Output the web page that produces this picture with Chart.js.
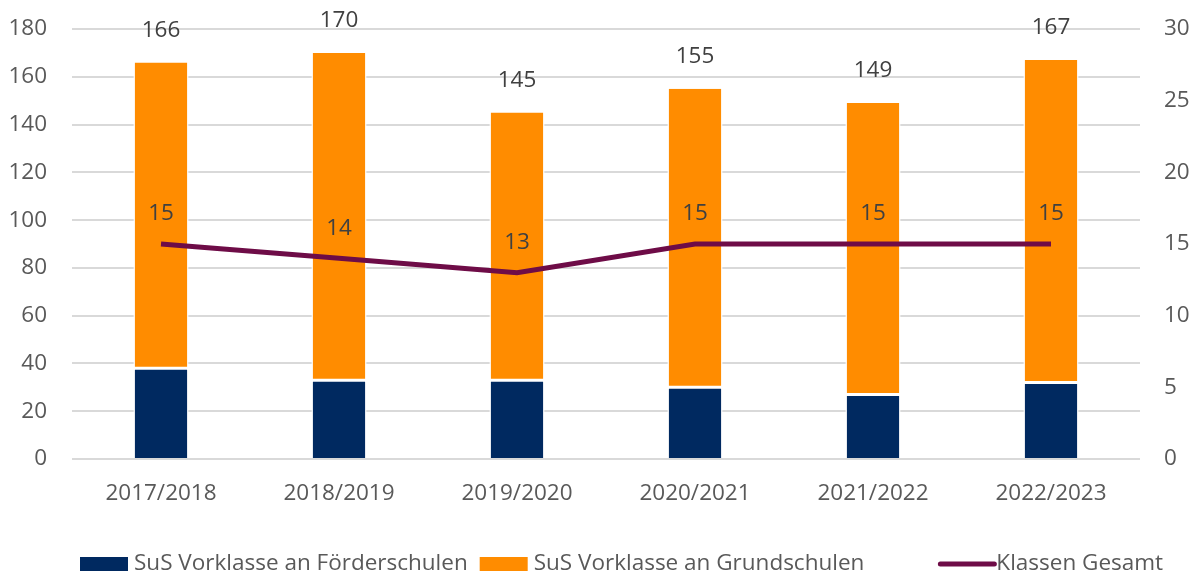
<!DOCTYPE html>
<html>
<head>
<meta charset="utf-8">
<script src="https://cdn.jsdelivr.net/npm/chart.js@4/dist/chart.umd.min.js"></script>
<style>
html,body{margin:0;padding:0;background:#fff;}
#wrap{width:1192px;height:574px;position:relative;}
</style>
</head>
<body>
<div id="wrap"><canvas id="c" width="1192" height="574"></canvas></div>
<script>
const categories = ["2017/2018","2018/2019","2019/2020","2020/2021","2021/2022","2022/2023"];
const foerderschulen = [38, 33, 33, 30, 27, 32];
const grundschulen = [128, 137, 112, 125, 122, 135];
const totals = [166, 170, 145, 155, 149, 167];
const klassenGesamt = [15, 14, 13, 15, 15, 15];
const leftTicks = [0,20,40,60,80,100,120,140,160,180];
const rightTicks = [0,5,10,15,20,25,30];

const FONT = "'Open Sans', 'Noto Sans', sans-serif";
const FSIZE = 22.5;
const NAVY = "#002960";
const ORANGE = "#FF8C00";
const PURPLE = "#6E0C47";
const TXT = "#595959";

const labelsPlugin = {
  id: 'labelsPlugin',
  afterDatasetsDraw(chart) {
    const ctx = chart.ctx;
    ctx.save();
    ctx.font = FSIZE + "px " + FONT;
    ctx.fillStyle = "#404040";
    ctx.textAlign = "center";
    ctx.textBaseline = "middle";
    const barMeta = chart.getDatasetMeta(1);
    barMeta.data.forEach((el, i) => {
      ctx.fillText(String(totals[i]), el.x, el.y - 32);
    });
    const lineMeta = chart.getDatasetMeta(2);
    lineMeta.data.forEach((el, i) => {
      ctx.fillText(String(klassenGesamt[i]), el.x, el.y - 30);
    });
    ctx.restore();
  }
};

const legendPlugin = {
  id: 'legendPlugin',
  afterDraw(chart) {
    const ctx = chart.ctx;
    ctx.save();
    ctx.font = FSIZE + "px " + FONT;
    ctx.fillStyle = TXT;
    ctx.textBaseline = "middle";
    ctx.textAlign = "left";
    const y = 564;
    let x = 80;
    const items = chart.data.datasets;
    ctx.fillStyle = items[0].backgroundColor;
    ctx.fillRect(x, y - 7, 48, 14);
    x += 54;
    ctx.fillStyle = TXT;
    ctx.fillText(items[0].label, x, y);
    x += ctx.measureText(items[0].label).width + 12;
    ctx.fillStyle = items[1].backgroundColor;
    ctx.fillRect(x, y - 7, 48, 14);
    x += 54;
    ctx.fillStyle = TXT;
    ctx.fillText(items[1].label, x, y);
    x += ctx.measureText(items[1].label).width + 74;
    ctx.strokeStyle = items[2].borderColor;
    ctx.lineWidth = 5;
    ctx.lineCap = "round";
    ctx.beginPath();
    ctx.moveTo(x + 2, y);
    ctx.lineTo(x + 56, y);
    ctx.stroke();
    x += 58;
    ctx.fillStyle = TXT;
    ctx.fillText(items[2].label, x, y);
    ctx.restore();
  }
};

new Chart(document.getElementById('c'), {
  type: 'bar',
  data: {
    labels: categories,
    datasets: [
      {
        label: "SuS Vorklasse an Förderschulen",
        data: foerderschulen,
        backgroundColor: NAVY,
        borderColor: "#ffffff",
        borderWidth: {left: 1.5, right: 1.5, top: 1.5, bottom: 0},
        borderSkipped: false,
        stack: 's',
        yAxisID: 'y',
        order: 2,
        categoryPercentage: 1,
        barPercentage: 0.31
      },
      {
        label: "SuS Vorklasse an Grundschulen",
        data: grundschulen,
        backgroundColor: ORANGE,
        borderColor: "#ffffff",
        borderWidth: {left: 1.5, right: 1.5, top: 0, bottom: 1.5},
        borderSkipped: false,
        stack: 's',
        yAxisID: 'y',
        order: 2,
        categoryPercentage: 1,
        barPercentage: 0.31
      },
      {
        type: 'line',
        label: "Klassen Gesamt",
        data: klassenGesamt,
        borderColor: PURPLE,
        backgroundColor: PURPLE,
        borderWidth: 5,
        pointRadius: 0,
        tension: 0,
        yAxisID: 'y2',
        order: 1
      }
    ]
  },
  options: {
    responsive: false,
    animation: false,
    layout: { padding: { top: 29, bottom: 55, left: 0, right: 0 } },
    plugins: {
      legend: { display: false },
      tooltip: { enabled: false }
    },
    scales: {
      x: {
        stacked: true,
        grid: { display: false, drawTicks: false },
        border: { display: false },
        ticks: { color: TXT, font: { family: FONT, size: FSIZE }, padding: 21 },
        afterFit(s) { s.height = 60; s.paddingLeft = 0; s.paddingRight = 0; }
      },
      y: {
        stacked: true,
        position: 'left',
        min: 0, max: 180,
        afterBuildTicks(s) { s.ticks = leftTicks.map(v => ({value: v})); },
        grid: { color: "#D9D9D9", lineWidth: 2, drawTicks: false },
        border: { display: false },
        ticks: { color: TXT, font: { family: FONT, size: FSIZE }, padding: 25 },
        afterFit(s) { s.width = 72; s.paddingTop = 0; s.paddingBottom = 0; }
      },
      y2: {
        position: 'right',
        min: 0, max: 30,
        afterBuildTicks(s) { s.ticks = rightTicks.map(v => ({value: v})); },
        grid: { display: false, drawTicks: false },
        border: { display: false },
        ticks: { color: TXT, font: { family: FONT, size: FSIZE }, padding: 24 },
        afterFit(s) { s.width = 52; s.paddingTop = 0; s.paddingBottom = 0; }
      }
    }
  },
  plugins: [labelsPlugin, legendPlugin]
});
</script>
</body>
</html>
